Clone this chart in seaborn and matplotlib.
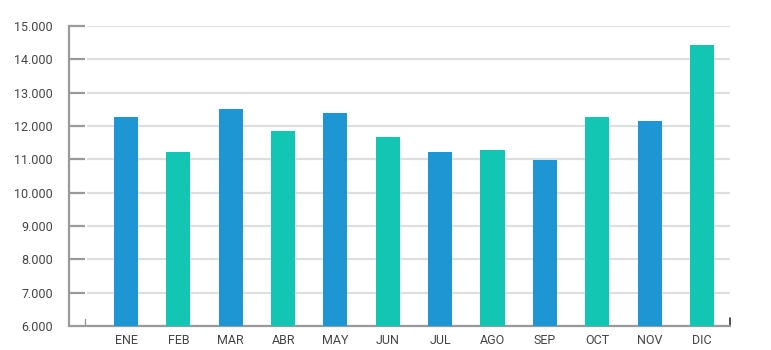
import matplotlib
matplotlib.use("Agg")
import matplotlib.pyplot as plt
import matplotlib.ticker as mticker
import seaborn as sns

months = ["ENE", "FEB", "MAR", "ABR", "MAY", "JUN", "JUL", "AGO", "SEP", "OCT", "NOV", "DIC"]
values = [12270, 11220, 12520, 11850, 12390, 11670, 11220, 11280, 10980, 12270, 12150, 14420]
blue = "#1f96d4"
teal = "#12c6b3"
colors = [blue, teal, blue, teal, blue, teal, blue, teal, blue, teal, blue, teal]
yticks = list(range(6000, 15001, 1000))

sns.set_theme(style="white")
plt.rcParams["font.family"] = ["Roboto", "DejaVu Sans"]

fig = plt.figure(figsize=(7.71, 3.5), dpi=100)
ax = fig.add_axes([87 / 771, (350 - 326) / 350, (730 - 87) / 771, (326 - 26) / 350])

sns.barplot(x=months, y=values, hue=months, palette=colors, width=0.46,
            saturation=1, legend=False, ax=ax, zorder=3, linewidth=0, edgecolor="none")

ax.set_ylim(6000, 15000)
ax.set_xlim(-0.745, 11.535)
ax.set_yticks(yticks)
ax.yaxis.set_major_formatter(mticker.FuncFormatter(lambda v, p: f"{int(v):,}".replace(",", ".")))

ax.grid(axis="y", color="#dedede", linewidth=1.6, zorder=0)
ax.set_axisbelow(True)

for s in ["top", "right"]:
    ax.spines[s].set_visible(False)
ax.spines["left"].set_position(("outward", 13))
ax.spines["left"].set_color("#9a9a9a")
ax.spines["left"].set_linewidth(1.6)
ax.spines["bottom"].set_color("#9a9a9a")
ax.spines["bottom"].set_linewidth(1.6)

ax.tick_params(axis="y", direction="in", length=11.5, width=1.6, color="#9a9a9a",
               pad=11.5, labelsize=9, labelcolor="#444444", left=True)
ax.tick_params(axis="x", length=0, pad=6, labelsize=9, labelcolor="#444444")
ax.set_xlabel("")
ax.set_ylabel("")

# small end marks on the baseline
ax.plot([-0.003, -0.003], [0, 0.025], transform=ax.transAxes, color="#9a9a9a",
        linewidth=1.0, clip_on=False)
ax.plot([1.0, 1.0], [0, 0.027], transform=ax.transAxes, color="#333333",
        linewidth=1.2, clip_on=False)

fig.savefig("out.png", dpi=100)
